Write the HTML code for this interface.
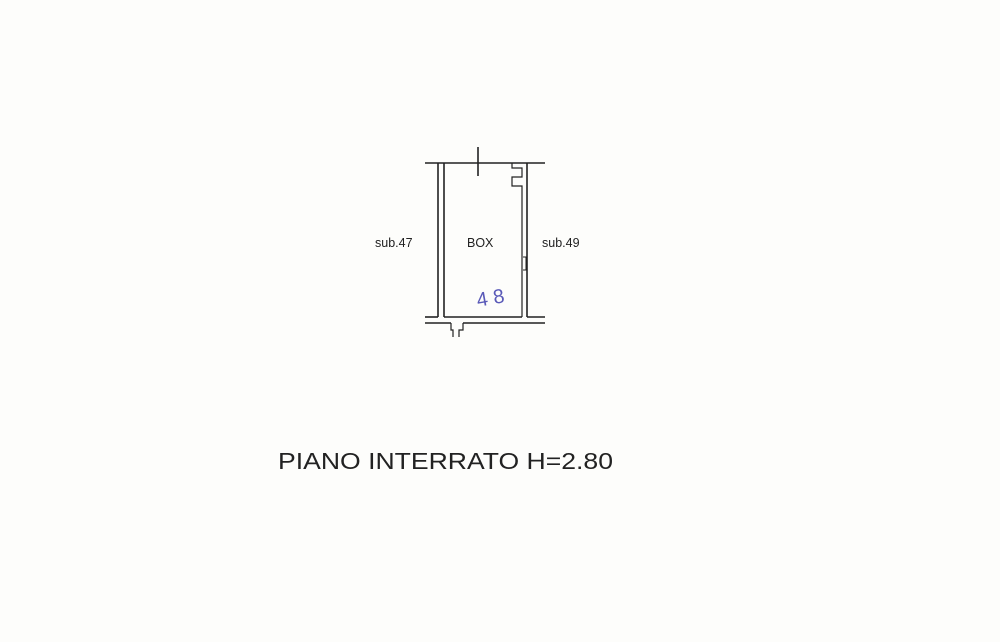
<!DOCTYPE html>
<html><head><meta charset="utf-8"><style>
html,body{margin:0;padding:0;background:#fdfdfb;}
svg{display:block;}
</style></head><body>
<svg width="1000" height="642" viewBox="0 0 1000 642" xmlns="http://www.w3.org/2000/svg">
<rect width="1000" height="642" fill="#fdfdfb"/>
<g stroke="#222" stroke-width="1.6" fill="none">
<line x1="425" y1="163" x2="545" y2="163"/>
<line x1="478" y1="147" x2="478" y2="176"/>
<line x1="438" y1="163" x2="438" y2="317"/>
<line x1="444" y1="163" x2="444" y2="317"/>
<line x1="527" y1="163" x2="527" y2="317"/>
<polyline points="512,163 512,168 522,168 522,177 512,177 512,186 522,186 522,317" stroke-width="1.2"/>
<polyline points="523,257 526,257 526,270 523,270" stroke-width="1"/>
<line x1="425" y1="317" x2="438" y2="317"/>
<line x1="444" y1="317" x2="522" y2="317"/>
<line x1="527" y1="317" x2="545" y2="317"/>
<line x1="425" y1="323" x2="451" y2="323"/>
<line x1="463" y1="323" x2="545" y2="323"/>
<polyline points="451,323 451,330 453,330 453,337" stroke-width="1.2"/>
<polyline points="463,323 463,330 459,330 459,337" stroke-width="1.2"/>
</g>
<g font-family="Liberation Sans, sans-serif" fill="#222">
<text x="375" y="247" font-size="12.5">sub.47</text>
<text x="467" y="247" font-size="12.5">BOX</text>
<text x="542" y="247" font-size="12.5">sub.49</text>
<text x="278" y="469" font-size="23.5" textLength="335" lengthAdjust="spacingAndGlyphs">PIANO  INTERRATO  H=2.80</text>
</g>
<text x="476" y="305" font-family="Liberation Sans, sans-serif" font-size="20" fill="#5a5ab8" transform="rotate(-10 488 295)">4 8</text>
</svg>
</body></html>
